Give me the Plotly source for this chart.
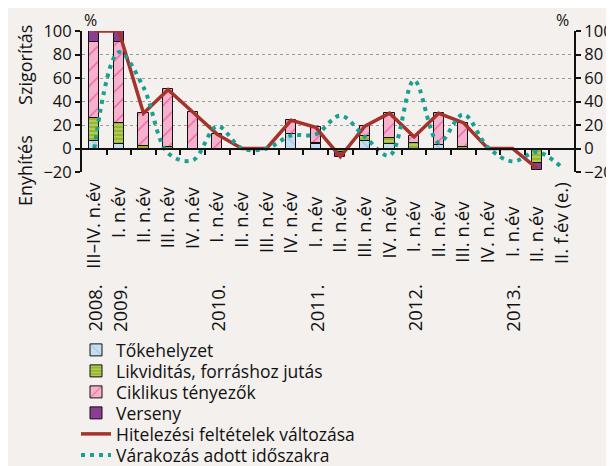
import plotly.graph_objects as go

# ---------------- data ----------------
categories = ["III–IV. n.év", "I. n.év ", "II. n.év ", "III. n.év ", "IV. n.év ",
              "I. n.év  ", "II. n.év  ", "III. n.év  ", "IV. n.év  ",
              "I. n.év   ", "II. n.év   ", "III. n.év   ", "IV. n.év   ",
              "I. n.év    ", "II. n.év    ", "III. n.év    ", "IV. n.év    ",
              "I. n.év     ", "II. n.év     ", "II. f.év (e.)"]
year_labels = {0: "2008.", 1: "2009.", 5: "2010.", 9: "2011.", 13: "2012.", 17: "2013."}

tokehelyzet = [6, 4, None, None, None, None, None, None, 12, 4, None, 6, 3.5, None, 3, None, None, None, None, None]
likviditas = [20, 18, 2, 1, None, None, None, None, None, 1, -3, 5, 5.5, 5, None, 1, None, None, -12, None]
ciklikus = [65, 69, 28, 50, 31, 12, None, None, 12, 13.5, None, 8, 21, 6, 27, 21, None, None, None, None]
verseny = [9, 9, None, None, None, None, None, None, None, None, -4, None, None, None, None, None, None, None, -6, None]
hitelezesi = [100, 100, 30, 50, 31, 12, 0, 0, 24, 18, -7, 19, 30, 10, 30, 22, 0, 0, -17, None]
varakozas = [0, 82, 52, -4, -10, 19, 0, 0, 11, 12, 28, 10, -6, 58, 5, 29, 1, -11, -3, -16]

y_ticks = [-20, 0, 20, 40, 60, 80, 100]
y_ticktext = ["−20", "0", "20", "40", "60", "80", "100"]

FONT = "Open Sans"
BG = "#F3F0ED"
TXT = "#111111"
W, H = 606, 458  # page body adds an 8px offset; keeps the visible frame at 614x466

fig = go.Figure()

def bar(name, vals, bg, fg, shape, size, solidity, legend):
    pattern = dict(shape=shape, fgcolor=fg, bgcolor=bg, size=size, solidity=solidity,
                   fillmode="overlay") if shape else None
    fig.add_trace(go.Bar(
        x=categories, y=vals, name=name, width=0.41, legend=legend,
        marker=dict(color=bg, line=dict(color=TXT, width=1), pattern=pattern),
    ))

bar("Tőkehelyzet", tokehelyzet, "#C7DDF1", "#7FA8D6", "\\", 10, 0.12, "legend")
bar("Likviditás, forráshoz jutás", likviditas, "#97B62B", "#E4EDB5", "-", 4, 0.35, "legend2")
bar("Ciklikus tényezők", ciklikus, "#F6B2CD", "#E2157D", "/", 11, 0.13, "legend3")
bar("Verseny", verseny, "#8C3D95", None, "", 0, 0, "legend4")

fig.add_trace(go.Scatter(
    x=categories, y=hitelezesi, name="Hitelezési feltételek változása", legend="legend5",
    mode="lines", line=dict(color="#A5322B", width=3.5), connectgaps=False,
))
fig.add_trace(go.Scatter(
    x=categories, y=varakozas, name="Várakozás adott időszakra", legend="legend6",
    mode="lines", line=dict(color="#17A093", width=4, dash="4px,5px", shape="spline", smoothing=1),
))

# dummy traces to activate secondary axes
fig.add_trace(go.Scatter(x=[None], y=[None], yaxis="y2", showlegend=False, hoverinfo="skip"))
fig.add_trace(go.Scatter(x=[None], y=[None], xaxis="x2", showlegend=False, hoverinfo="skip"))

annotations = []
for idx, yr in year_labels.items():
    annotations.append(dict(x=categories[idx], xref="x", y=-0.785, yref="paper", text=yr,
                            textangle=-90, showarrow=False, xanchor="center", yanchor="top",
                            font=dict(family=FONT, size=18.5, color=TXT)))
annotations += [
    dict(x=-0.116, y=0.759, xref="paper", yref="paper", text="Szigorítás", textangle=-90,
         showarrow=False, xanchor="center", yanchor="middle",
         font=dict(family=FONT, size=18, color=TXT)),
    dict(x=-0.116, y=0.014, xref="paper", yref="paper", text="Enyhítés", textangle=-90,
         showarrow=False, xanchor="center", yanchor="middle",
         font=dict(family=FONT, size=18, color=TXT)),
    dict(x=0.018, y=1.078, xref="paper", yref="paper", text="%", showarrow=False,
         xanchor="center", yanchor="middle", font=dict(family=FONT, size=16, color=TXT)),
    dict(x=0.977, y=1.078, xref="paper", yref="paper", text="%", showarrow=False,
         xanchor="center", yanchor="middle", font=dict(family=FONT, size=16, color=TXT)),
]

axis_font = dict(family=FONT, size=16.5, color=TXT)

def leg(row):
    yc = 342 + 21 * row
    return dict(x=68 / W, y=1 - yc / H, xref="container", yref="container",
                xanchor="left", yanchor="middle",
                font=dict(family=FONT, size=17.5, color=TXT), bgcolor="rgba(0,0,0,0)",
                itemwidth=30)

fig.update_layout(
    width=W, height=H,
    margin=dict(l=74, r=40, t=23, b=294, autoexpand=False),
    paper_bgcolor=BG, plot_bgcolor=BG,
    barmode="relative", bargap=0,
    font=dict(family=FONT, size=16, color=TXT),
    showlegend=True,
    legend=leg(0), legend2=leg(1), legend3=leg(2), legend4=leg(3), legend5=leg(4), legend6=leg(5),
    xaxis=dict(type="category", categoryorder="array", categoryarray=categories,
               range=[-0.5, len(categories) - 0.5], showline=False, showgrid=False,
               zeroline=False, ticks="outside", ticklen=2, tickcolor="rgba(0,0,0,0)",
               tickangle=-90, tickfont=dict(family=FONT, size=18.5, color=TXT)),
    xaxis2=dict(overlaying="x", anchor="free", position=1 / 6, range=[-0.5, len(categories) - 0.5],
                tickvals=[i + 0.5 for i in range(len(categories) - 1)], ticks="outside",
                ticklen=5, tickwidth=2, tickcolor=TXT, showticklabels=False,
                showline=True, linewidth=2, linecolor=TXT, showgrid=False, zeroline=False),
    yaxis=dict(range=[-20, 100], tickvals=y_ticks, ticktext=y_ticktext, showline=True,
               linewidth=2, linecolor=TXT, ticks="outside", ticklen=5, tickwidth=2,
               tickcolor=TXT, showgrid=True, gridcolor="#9A9A9A", griddash="dot",
               gridwidth=1, zeroline=False, tickfont=axis_font),
    yaxis2=dict(overlaying="y", side="right", range=[-20, 100], tickvals=y_ticks,
                ticktext=y_ticktext, showline=True, linewidth=2, linecolor=TXT,
                ticks="outside", ticklen=5, tickwidth=2, tickcolor=TXT,
                showgrid=False, zeroline=False, tickfont=axis_font),
    annotations=annotations,
)

fig.write_html("out.html")
